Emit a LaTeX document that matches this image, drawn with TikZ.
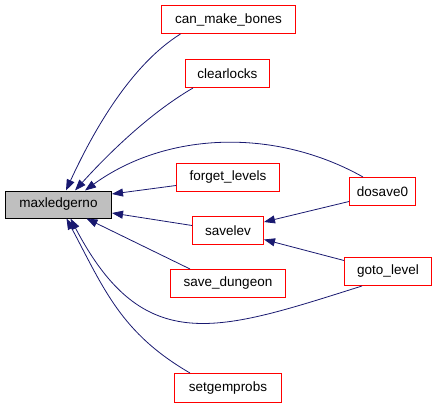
\documentclass[tikz,border=0pt]{standalone}
\usepackage{fontspec}
\setmainfont{Liberation Sans}
\usetikzlibrary{arrows.meta}
\definecolor{edgecol}{RGB}{25,25,112}
\definecolor{boxred}{RGB}{255,0,0}
\definecolor{mainfill}{RGB}{191,191,191}
\begin{document}
\begin{tikzpicture}[x=1pt,y=1pt,
  fn/.style={draw=boxred, line width=1pt, fill=white, text=black, minimum height=28pt, inner sep=0pt, font=\fontsize{13.5}{16}\selectfont},
  mainfn/.style={draw=black, line width=1pt, fill=mainfill, text=black, minimum height=27pt, inner sep=0pt, font=\fontsize{13.5}{16}\selectfont},
  edge/.style={draw=edgecol, line width=0.8pt, -{Triangle[length=11pt,width=8pt]}}]
\useasboundingbox (0,0) rectangle (437,408);
\node[mainfn, minimum width=106pt] (max) at (58.5,203.5) {maxledgerno};
\node[fn, minimum width=134pt] (cmb) at (228.5,388.5) {can\_make\_bones};
\node[fn, minimum width=84pt] (cl) at (227.5,334.5) {clearlocks};
\node[fn, minimum width=103pt] (fl) at (228,230.5) {forget\_levels};
\node[fn, minimum width=71pt] (sl) at (228,177.5) {savelev};
\node[fn, minimum width=115pt] (sd) at (228,124.5) {save\_dungeon};
\node[fn, minimum width=107pt, minimum height=29pt] (sg) at (228,20) {setgemprobs};
\node[fn, minimum width=66pt] (ds) at (382.5,216.5) {dosave0};
\node[fn, minimum width=87pt] (gl) at (388,136.5) {goto\_level};
\draw[edge] ([xshift=-48pt]cmb.south) .. controls (129,342) and (91,272) .. ([xshift=7.5pt]max.north);
\draw[edge] ([xshift=-34.5pt]cl.south) .. controls (150,295) and (109,255) .. ([xshift=16.5pt]max.north);
\draw[edge] ([xshift=-19.5pt]ds.north) .. controls (276,280) and (167,277) .. ([xshift=26.5pt]max.north);
\draw[edge] ([yshift=-8pt]fl.west) -- ([yshift=10.5pt]max.east);
\draw[edge] ([yshift=5pt]sl.west) -- ([yshift=-8.5pt]max.east);
\draw[edge] ([xshift=-38pt]sd.north) -- ([xshift=28pt]max.south);
\draw[edge] ([xshift=-26pt]gl.south) .. controls (219,77) and (144,49) .. ([xshift=12pt]max.south);
\draw[edge] ([xshift=-38pt]sg.north) .. controls (121,75) and (104,119) .. ([xshift=8pt]max.south);
\draw[edge] ([yshift=-10pt]ds.west) -- ([yshift=8.5pt]sl.east);
\draw[edge] ([yshift=11pt]gl.west) -- ([yshift=-9pt]sl.east);
\end{tikzpicture}
\end{document}
